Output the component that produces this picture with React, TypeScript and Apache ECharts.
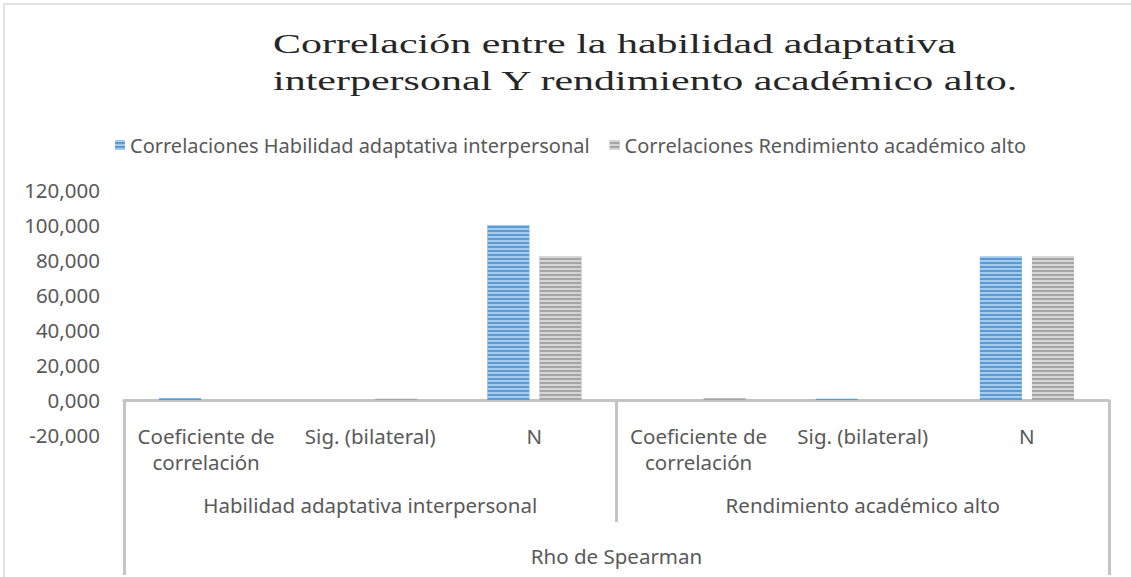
import React, { useEffect, useRef } from "react";
import * as echarts from "echarts";

const categories = [
  "Coeficiente de\ncorrelación",
  "Sig. (bilateral)",
  "N",
  "Coeficiente de\ncorrelación",
  "Sig. (bilateral)",
  "N",
];
const groups = ["Habilidad adaptativa interpersonal", "Rendimiento académico alto"];
const topGroup = ["Rho de Spearman"];
const seriesNames = [
  "Correlaciones Habilidad adaptativa interpersonal",
  "Correlaciones Rendimiento académico alto",
];
const habilidad = [1.0, 0, 100, 0.07, 0.7, 82];
const rendimiento = [0.07, 0.7, 82, 1.0, 0, 82];
const yTicks = { min: -20, max: 120, interval: 20 };

const TITLE = "Correlación entre la habilidad adaptativa\ninterpersonal Y rendimiento académico alto.";
const GRAY_TEXT = "#595959";
const LINE = "#C4C4C4";
const FONT = "'Noto Sans', sans-serif";

const stripe = (color: string) => ({
  symbol: "rect",
  symbolSize: 1,
  dashArrayX: [1, 0],
  dashArrayY: [2, 2],
  rotation: 0,
  color,
});

export default function App() {
  const ref = useRef<HTMLDivElement>(null);
  useEffect(() => {
    if (!ref.current) return;
    const chart = echarts.init(ref.current, null, { renderer: "svg" });
    const groupAxis = (data: string[], tickLen: number, margin: number) => ({
      type: "category",
      data,
      position: "bottom",
      offset: -35,
      axisLine: { show: false },
      axisTick: { show: true, length: tickLen, lineStyle: { color: LINE, width: 3 } },
      axisLabel: { interval: 0, margin, color: GRAY_TEXT, fontFamily: FONT, fontSize: 20.5 },
      splitLine: { show: false },
    });
    chart.setOption({
      animation: false,
      backgroundColor: "#fff",
      graphic: [
        {
          type: "rect",
          shape: { x: 4, y: 4, width: 1160, height: 620 },
          style: { fill: "none", stroke: "#D9D9D9", lineWidth: 1.5 },
          silent: true,
        },
        {
          type: "text",
          x: 273,
          y: 25,
          scaleX: 1.5,
          style: {
            text: TITLE,
            font: "28px 'Liberation Serif', serif",
            lineHeight: 37,
            fill: "#262626",
            textVerticalAlign: "top",
          },
        },
      ],
      legend: {
        left: 110,
        top: 130,
        itemWidth: 10,
        itemHeight: 10,
        itemGap: 20,
        icon: "rect",
        textStyle: { color: GRAY_TEXT, fontFamily: FONT, fontSize: 20 },
        data: seriesNames,
      },
      grid: { left: 124, right: 22, top: 190, bottom: 142, containLabel: false },
      xAxis: [
        {
          type: "category",
          data: categories,
          position: "bottom",
          offset: -35,
          axisLine: { show: true, onZero: false, lineStyle: { color: LINE, width: 3 } },
          axisTick: { show: false },
          axisLabel: {
            interval: 0,
            margin: 23,
            color: GRAY_TEXT,
            fontFamily: FONT,
            fontSize: 20.5,
            lineHeight: 26,
          },
          splitLine: { show: false },
        },
        groupAxis(groups, 122, 94),
        groupAxis(topGroup, 175, 145),
      ],
      yAxis: {
        type: "value",
        min: yTicks.min,
        max: yTicks.max,
        interval: yTicks.interval,
        axisLine: { show: false },
        axisTick: { show: false },
        splitLine: { show: false },
        axisLabel: {
          margin: 24,
          color: GRAY_TEXT,
          fontFamily: FONT,
          fontSize: 20.5,
          formatter: (v: number) => v.toFixed(3).replace(".", ","),
        },
      },
      series: [
        {
          name: seriesNames[0],
          type: "bar",
          xAxisIndex: 0,
          data: habilidad,
          barWidth: 42,
          barGap: "24%",
          itemStyle: { color: "#5B9BD5", decal: stripe("rgba(190,220,245,0.75)") },
        },
        {
          name: seriesNames[1],
          type: "bar",
          xAxisIndex: 0,
          data: rendimiento,
          barWidth: 42,
          barGap: "24%",
          itemStyle: { color: "#A5A5A5", decal: stripe("rgba(225,225,225,0.8)") },
        },
      ],
    });
    return () => chart.dispose();
  }, []);
  return (
    <div
      ref={ref}
      style={{ position: "absolute", left: 0, top: 0, width: 1131, height: 577 }}
    />
  );
}
